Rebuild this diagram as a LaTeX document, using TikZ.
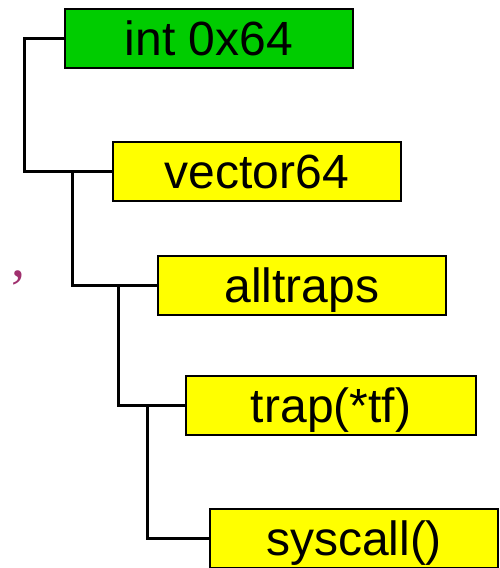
\documentclass[tikz,border=0pt]{standalone}
\usepackage{fontspec}
\setmainfont{Liberation Sans}
\newfontfamily\commafont{Liberation Serif}
\definecolor{CallGreen}{RGB}{0, 204, 0}
\definecolor{CallYellow}{RGB}{255, 255, 0}
\definecolor{CommaPink}{RGB}{160, 48, 110}
\usepackage{tikz}
\usetikzlibrary{calc}

\begin{document}
\begin{tikzpicture}[x=1pt, y=-1pt,
  every node/.style={font=\fontsize{48}{52}\selectfont},
  callbox/.style={draw, line width=2pt, minimum width=288pt, minimum height=59pt,
    inner sep=0pt, text height=34pt, text depth=0pt, fill=CallYellow},
  link/.style={line width=3pt}]
\useasboundingbox (0,0) rectangle (499,568);

% call chain
\node[callbox, fill=CallGreen] (int) at (209,38.5) {int 0x64};
\node[callbox] (vector) at (257,171) {vector64};
\node[callbox] (alltraps) at (302,285) {alltraps};
\node[callbox, minimum width=290pt] (trap) at (331,405.5) {trap(*tf)};
\node[callbox] (syscall) at (354,538.5) {syscall()};

% links
\draw[link] (int.west) -- ++(-40,0) coordinate (j0) |- (vector.west);
\draw[link] ($(vector.west)+(-40,0)$) coordinate (j1) |- (alltraps.west);
\draw[link] ($(alltraps.west)+(-39,0)$) coordinate (j2) |- (trap.west);
\draw[link] ($(trap.west)+(-38,0)$) coordinate (j3) |- (syscall.west);

% stray mark
\node[text=CommaPink, font=\commafont\fontsize{56}{56}\selectfont] (mark) at (19,278) {,};
\end{tikzpicture}
\end{document}
